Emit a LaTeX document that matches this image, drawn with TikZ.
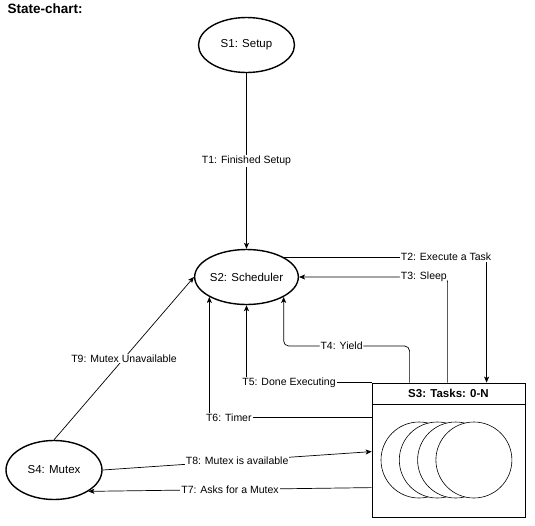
\documentclass[tikz,border=0pt]{standalone}
\usepackage{fontspec}
\setmainfont{Liberation Sans}
\usepackage{tikz}
\usetikzlibrary{shapes}
\usetikzlibrary{arrows.meta}
\usetikzlibrary{calc}
\tikzstyle{state}=[draw, ellipse, line width=1.4pt, inner sep=0pt, font=\fontsize{11.5}{13}\selectfont]
\tikzstyle{trans}=[line width=0.7pt, -{Stealth[length=6pt,width=5pt,inset=1.5pt]}]
\tikzstyle{lbl}=[fill=white, inner sep=1pt, font=\fontsize{10.5}{12}\selectfont]
\newcommand{\taskR}{38pt}
\newcommand{\taskstack}[3]{
\foreach \i in {0,...,3} {
	\draw[line width=0.6pt, fill=white] (#1+\i*#3, #2) circle (\taskR);
}
}

\begin{document}
\begin{tikzpicture}[x=1pt, y=-1pt]
\useasboundingbox (0,0) rectangle (535,525);
\node[anchor=base west, font=\bfseries\fontsize{13.5}{15}\selectfont] (title) at (4,13) {State-chart:};
% states
\node[state, minimum width=96pt, minimum height=55pt] (S1) at (246.5,45) {S1: Setup};
\node[state, minimum width=95pt, minimum height=55pt] (S2) at (246.5,277) {S2: Scheduler};
\node[state, minimum width=96pt, minimum height=59pt] (S4) at (54,470) {S4: Mutex};
% task box
\node[draw, line width=0.8pt, inner sep=0pt, minimum width=153pt, minimum height=134pt] (S3) at (448.5,450) {};
\taskstack{419}{460}{18.3}
\coordinate (hdl) at ($(S3.north west)+(0,21.5)$);
\draw[line width=0.8pt] (hdl) -- (hdl -| S3.east);
\node[font=\bfseries\fontsize{11.5}{13}\selectfont] (S3t) at ($(S3.north)+(0,11)$) {S3: Tasks: 0-N};
\coordinate (t2a) at ($(S3.north west)+(115,0)$);
\coordinate (t3a) at ($(S3.north west)+(76,0)$);
\coordinate (t4a) at ($(S3.north west)+(38,0)$);
\coordinate (t6a) at ($(S3.north west)+(0,35)$);
\coordinate (t8b) at ($(S3.north west)+(0,69)$);
\coordinate (t7a) at ($(S3.north west)+(0,105)$);
\coordinate (yld) at (0,346);
\coordinate (t4c) at (S2.south east |- yld);
% transitions
\draw[trans] (S1) -- node[lbl] {T1: Finished Setup} (S2);
\draw[trans] (S2.north east) -- node[lbl, pos=0.8] {T2: Execute a Task} (S2.north east -| t2a) -- (t2a);
\draw[trans, rounded corners=5pt] (t3a) |- node[lbl, pos=0.58] {T3: Sleep} (S2.east);
\draw[trans, rounded corners=5pt] (t4a) |- node[lbl, pos=0.77] {T4: Yield} (t4c) -- (S2.south east);
\draw[trans] (S3.north west) -| node[lbl, pos=0.33] {T5: Done Executing} (S2.south);
\draw[trans] (t6a) -| node[lbl, pos=0.44] {T6: Timer} (S2.south west);
\draw[trans] (t7a) -- node[lbl] {T7: Asks for a Mutex} (S4.south east);
\draw[trans] (S4.east) -- node[lbl] {T8: Mutex is available} (t8b);
\draw[trans] (S4.north) -- node[lbl] {T9: Mutex Unavailable} (S2.west);
\end{tikzpicture}
\end{document}
